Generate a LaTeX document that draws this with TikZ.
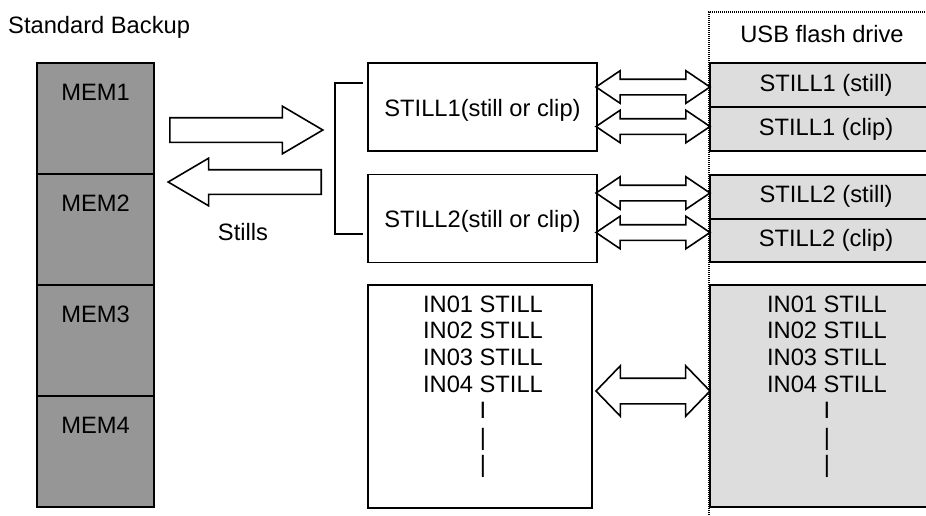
\documentclass[tikz,border=0pt]{standalone}
\usepackage{fontspec}
\setmainfont{Liberation Sans}
\usepackage{tikz}
\usetikzlibrary{shapes.arrows,positioning}
\definecolor{memgris}{HTML}{969696}
\definecolor{usbgris}{HTML}{DDDDDD}
\tikzset{
  texto/.style={font=\fontsize{23.7}{26.7}\selectfont,inner sep=0pt},
  memcaja/.style={draw=black,fill=memgris,line width=1.6pt,minimum width=117pt,minimum height=111pt,inner sep=0pt},
  caja/.style={draw=black,fill=white,line width=1.6pt,inner sep=0pt},
  usbcaja/.style={draw=black,fill=usbgris,line width=2pt,inner sep=0pt,minimum width=232pt,font=\fontsize{23.7}{26.7}\selectfont},
  flecha/.style={single arrow,draw=black,fill=white,line width=1.6pt,inner xsep=0pt,inner ysep=11.5pt,minimum height=153pt,single arrow head extend=11.5pt,single arrow tip angle=61},
  flechad/.style={double arrow,draw=black,fill=white,line width=1.6pt,inner xsep=0pt,inner ysep=7pt,minimum height=114pt,double arrow head extend=8.5pt,double arrow tip angle=68},
  flechadg/.style={flechad,inner ysep=12pt,double arrow head extend=12.5pt,double arrow tip angle=92},
  puntos/.style={line width=1.2pt,dash pattern=on 1pt off 1pt},
  corchete/.style={line width=1.6pt},
}
\begin{document}
\begin{tikzpicture}[x=1pt,y=-1pt]
\useasboundingbox (0,0) rectangle (926,515);
\clip (0,0) rectangle (926,515);
\node[texto,anchor=base west] (titulo) at (8,33) {Standard Backup};
\node[memcaja] (m1) at (95.5,118.5) {};
\node[memcaja] (m2) at (95.5,229.5) {};
\node[memcaja] (m3) at (95.5,340.5) {};
\node[memcaja] (m4) at (95.5,451.5) {};
\node[texto,anchor=base] (m1t) at ([yshift=-38.5pt]m1.north) {MEM1};
\node[texto,anchor=base] (m2t) at ([yshift=-38.5pt]m2.north) {MEM2};
\node[texto,anchor=base] (m3t) at ([yshift=-38.5pt]m3.north) {MEM3};
\node[texto,anchor=base] (m4t) at ([yshift=-38.5pt]m4.north) {MEM4};
\node[flecha,anchor=tail] (fder) at (169,130) {};
\node[flecha,shape border rotate=180,anchor=tail] (fizq) at (322,182) {};
\node[texto,anchor=base] (stills) at (243,240) {Stills};
\coordinate (brtop) at (363,83);
\coordinate (brbot) at (363,234);
\draw[corchete] (brtop) -| ([xshift=-28pt]brbot) -- (brbot);
\node[caja,minimum width=229pt,minimum height=88pt] (s1) at (482.5,107) {};
\node[caja,minimum width=229pt,minimum height=88pt] (s2) at (482.5,218.5) {};
\node[texto,anchor=base] (s1t) at ([yshift=-54pt]s1.north) {STILL1(still or clip)};
\node[texto,anchor=base] (s2t) at ([yshift=-54pt]s2.north) {STILL2(still or clip)};
\coordinate (usbabajo) at (709,515);
\coordinate (usbesq) at (709,12);
\coordinate (usbder) at (940,12);
\draw[puntos] (usbabajo) -- (usbesq) -- (usbder);
\node[texto,anchor=base] (usb) at (822,42) {USB flash drive};
\node[usbcaja,minimum height=44pt] (g1) at (826,85) {STILL1 (still)};
\node[usbcaja,minimum height=44pt] (g2) at (826,129) {STILL1 (clip)};
\node[usbcaja,minimum height=43.5pt] (g3) at (826,196.75) {STILL2 (still)};
\node[usbcaja,minimum height=43.5pt] (g4) at (826,240.25) {STILL2 (clip)};
\node[flechad] (d1) at (653,87) {};
\node[flechad] (d2) at (653,126.5) {};
\node[flechad] (d3) at (653,193) {};
\node[flechad] (d4) at (653,232.5) {};
\node[caja,minimum width=224pt,minimum height=223pt] (b1) at (480,396.5) {};
\node[usbcaja,minimum height=222pt] (b2) at (826,396) {};
\node[flechadg] (d5) at (653,391) {};
\node[texto,anchor=base] (b1l1) at (483,312) {IN01 STILL};
\node[texto,anchor=base] (b1l2) at (483,338.7) {IN02 STILL};
\node[texto,anchor=base] (b1l3) at (483,365.3) {IN03 STILL};
\node[texto,anchor=base] (b1l4) at (483,392) {IN04 STILL};
\node[texto,anchor=base] (b1l5) at (483,418.7) {I};
\node[texto,anchor=base] (b1l6) at (483,445.3) {|};
\node[texto,anchor=base] (b1l7) at (483,472) {|};
\node[texto,anchor=base] (b2l1) at (827,312) {IN01 STILL};
\node[texto,anchor=base] (b2l2) at (827,338.7) {IN02 STILL};
\node[texto,anchor=base] (b2l3) at (827,365.3) {IN03 STILL};
\node[texto,anchor=base] (b2l4) at (827,392) {IN04 STILL};
\node[texto,anchor=base] (b2l5) at (827,418.7) {I};
\node[texto,anchor=base] (b2l6) at (827,445.3) {|};
\node[texto,anchor=base] (b2l7) at (827,472) {|};
\end{tikzpicture}
\end{document}
